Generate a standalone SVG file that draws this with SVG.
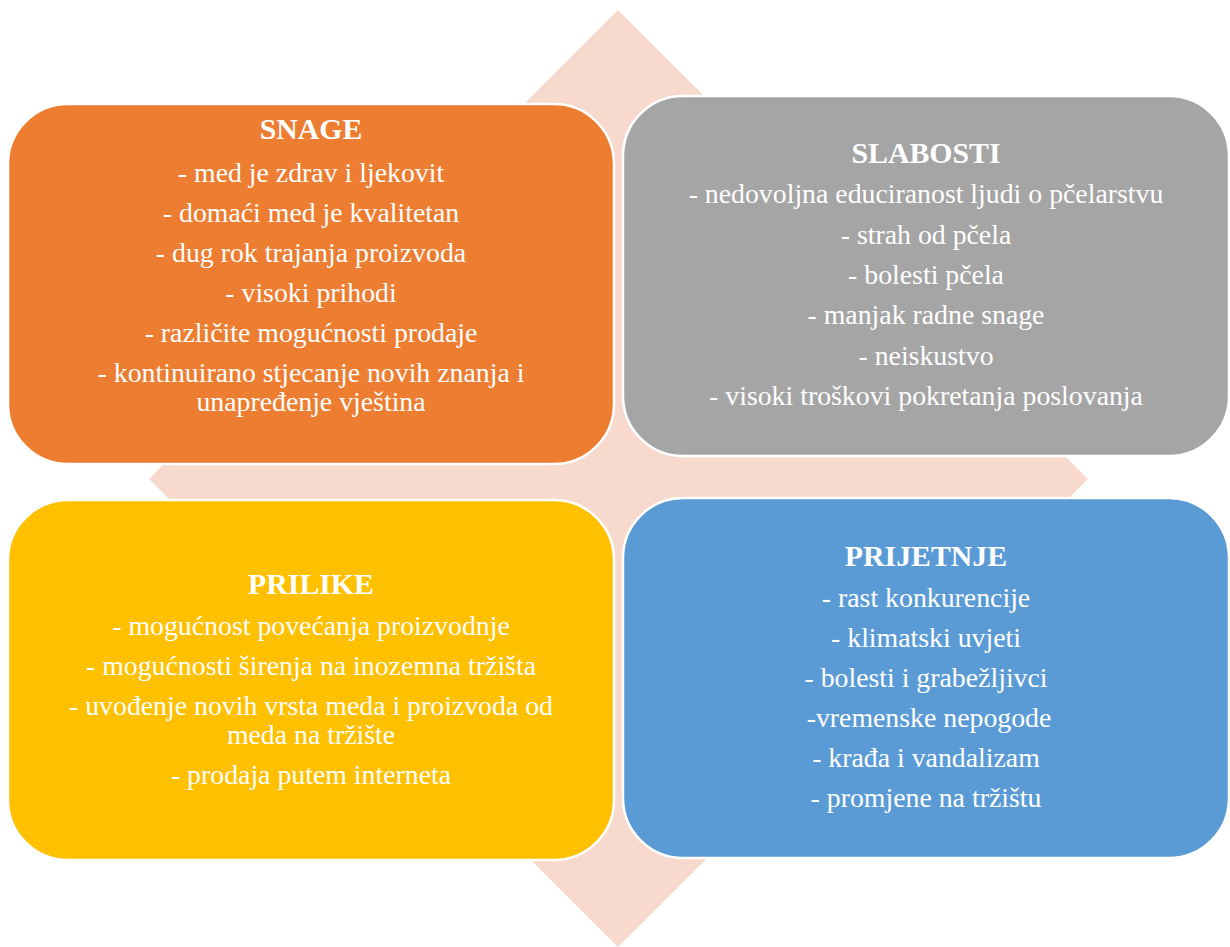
<svg xmlns="http://www.w3.org/2000/svg" width="1230" height="947" viewBox="0 0 1230 947">
<style>
.box{stroke:#FFFFFF;stroke-width:2.5}
.t{font-family:"Liberation Serif","Times New Roman",serif;font-size:27.8px;fill:#FFFFFF;text-anchor:middle}
.h{font-weight:bold;font-size:29.8px}
</style>
<rect width="1230" height="947" fill="#FFFFFF"/>
<g id="background">
<polygon points="618,10 1088,479 618,947 149,479" fill="#F7D9CE"/>
</g>
<g id="snage">
<rect class="box" x="8" y="104" width="606" height="360" rx="60" ry="60" fill="#ED7D31"/>
<text class="t h" x="311" y="139">SNAGE</text>
<text class="t" x="311" y="182">- med je zdrav i ljekovit</text>
<text class="t" x="311" y="222">- domaći med je kvalitetan</text>
<text class="t" x="311" y="262">- dug rok trajanja proizvoda</text>
<text class="t" x="311" y="302">- visoki prihodi</text>
<text class="t" x="311" y="342">- različite mogućnosti prodaje</text>
<text class="t" x="311" y="382">- kontinuirano stjecanje novih znanja i</text>
<text class="t" x="311" y="411">unapređenje vještina</text>
</g>
<g id="slabosti">
<rect class="box" x="623" y="96" width="606" height="360" rx="60" ry="60" fill="#A5A5A5"/>
<text class="t h" x="926" y="163">SLABOSTI</text>
<text class="t" x="926" y="203">- nedovoljna educiranost ljudi o pčelarstvu</text>
<text class="t" x="926" y="244">- strah od pčela</text>
<text class="t" x="926" y="284">- bolesti pčela</text>
<text class="t" x="926" y="324">- manjak radne snage</text>
<text class="t" x="926" y="365">- neiskustvo</text>
<text class="t" x="926" y="405">- visoki troškovi pokretanja poslovanja</text>
</g>
<g id="prilike">
<rect class="box" x="8" y="500" width="606" height="360" rx="60" ry="60" fill="#FFC000"/>
<text class="t h" x="311" y="594">PRILIKE</text>
<text class="t" x="311" y="635">- mogućnost povećanja proizvodnje</text>
<text class="t" x="311" y="675">- mogućnosti širenja na inozemna tržišta</text>
<text class="t" x="311" y="715">- uvođenje novih vrsta meda i proizvoda od</text>
<text class="t" x="311" y="744">meda na tržište</text>
<text class="t" x="311" y="784">- prodaja putem interneta</text>
</g>
<g id="prijetnje">
<rect class="box" x="623" y="498" width="606" height="360" rx="60" ry="60" fill="#5B9BD5"/>
<text class="t h" x="926" y="566">PRIJETNJE</text>
<text class="t" x="926" y="607">- rast konkurencije</text>
<text class="t" x="926" y="647">- klimatski uvjeti</text>
<text class="t" x="926" y="687">- bolesti i grabežljivci</text>
<text class="t" x="929" y="727">-vremenske nepogode</text>
<text class="t" x="926" y="767">- krađa i vandalizam</text>
<text class="t" x="926" y="807">- promjene na tržištu</text>
</g>
<g id="connectors"></g>
</svg>
